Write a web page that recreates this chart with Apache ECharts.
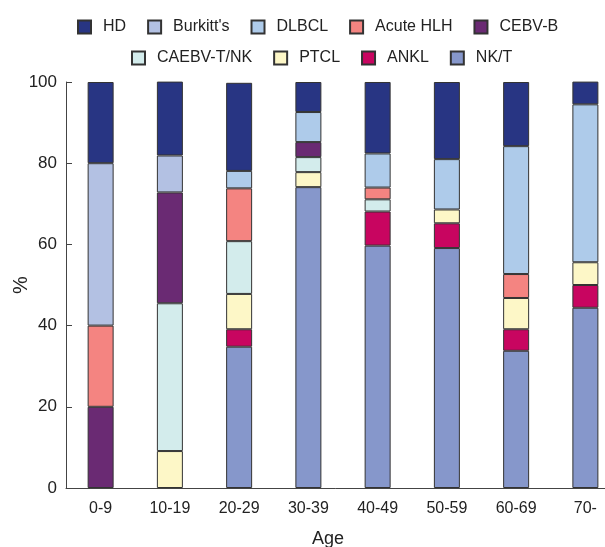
<!DOCTYPE html>
<html>
<head>
<meta charset="utf-8">
<script src="https://cdn.jsdelivr.net/npm/echarts@6/dist/echarts.min.js"></script>
<style>html,body{margin:0;padding:0;background:#fff;}#c{width:605px;height:547px;}</style>
</head>
<body>
<div id="c"></div>
<script>
var categories = ['0-9', '10-19', '20-29', '30-39', '40-49', '50-59', '60-69', '70-'];
var yTicks = [0, 20, 40, 60, 80, 100];

// stacked bottom to top
var nkt     = [0, 0, 34.8, 74.1, 59.7, 59.1, 33.8, 44.4];
var ankl    = [0, 0, 4.3, 0, 8.4, 6.1, 5.3, 5.6];
var ptcl    = [0, 9.1, 8.7, 3.7, 0, 3.4, 7.7, 5.6];
var caebv   = [0, 36.4, 13.0, 3.7, 3.0, 0, 0, 0];
var cebvb   = [20, 27.3, 0, 3.7, 0, 0, 0, 0];
var acuteHlh= [20, 0, 13.0, 0, 2.9, 0, 5.9, 0];
var dlbcl   = [0, 0, 4.3, 7.4, 8.4, 12.4, 31.5, 38.9];
var burkitt = [40, 9.1, 0, 0, 0, 0, 0, 0];
var hd      = [20, 18.2, 21.7, 7.4, 17.6, 19.0, 15.8, 5.6];

var seriesDefs = [
  {name: 'NK/T', data: nkt, color: '#8697cb'},
  {name: 'ANKL', data: ankl, color: '#c80560'},
  {name: 'PTCL', data: ptcl, color: '#fdf7c7'},
  {name: 'CAEBV-T/NK', data: caebv, color: '#d3ecec'},
  {name: 'CEBV-B', data: cebvb, color: '#6a2a73'},
  {name: 'Acute HLH', data: acuteHlh, color: '#f48481'},
  {name: 'DLBCL', data: dlbcl, color: '#aecbea'},
  {name: "Burkitt's", data: burkitt, color: '#b3c1e3'},
  {name: 'HD', data: hd, color: '#283583'}
];

var font = 'Liberation Sans, Arial, Helvetica, sans-serif';
var legendCommon = {
  icon: 'rect', itemWidth: 13, itemHeight: 13, itemGap: 21, orient: 'horizontal',
  textStyle: {fontSize: 16, color: '#222', fontFamily: font, padding: [0, 0, 0, 7]}
};

var chart = echarts.init(document.getElementById('c'), null, {renderer: 'canvas'});
chart.setOption({
  backgroundColor: '#fff',
  animation: false,
  textStyle: {fontFamily: font},
  legend: [
    Object.assign({left: 72, top: 14, data: ['HD', "Burkitt's", 'DLBCL', 'Acute HLH', 'CEBV-B']}, legendCommon),
    Object.assign({left: 126, top: 45, data: ['CAEBV-T/NK', 'PTCL', 'ANKL', 'NK/T']}, legendCommon)
  ],
  grid: {left: 66, right: -15, top: 82, bottom: 59, containLabel: false, outerBoundsMode: 'none'},
  xAxis: {
    type: 'category',
    data: categories,
    name: 'Age',
    nameLocation: 'middle',
    nameGap: 42,
    nameMoveOverlap: false,
    nameTextStyle: {fontSize: 18, color: '#222', fontFamily: font, padding: [0, 30, 0, 0]},
    axisLine: {lineStyle: {color: '#444', width: 1}},
    axisTick: {show: false},
    axisLabel: {fontSize: 16, color: '#222', margin: 13, fontFamily: font}
  },
  yAxis: {
    type: 'value',
    min: yTicks[0], max: yTicks[yTicks.length - 1], interval: 20,
    name: '%',
    nameLocation: 'middle',
    nameGap: 35,
    nameMoveOverlap: false,
    nameTextStyle: {fontSize: 20, color: '#222', fontFamily: font},
    axisLine: {show: true, lineStyle: {color: '#444', width: 1}},
    axisTick: {show: true, inside: true, length: 6, lineStyle: {color: '#444'}},
    splitLine: {show: false},
    axisLabel: {fontSize: 17, color: '#222', margin: 9, fontFamily: font}
  },
  series: seriesDefs.map(function (s) {
    return {
      name: s.name,
      type: 'bar',
      stack: 'total',
      barWidth: 26,
      data: s.data.map(function (v) { return v === 0 ? '-' : v; }),
      itemStyle: {color: s.color, borderColor: '#333', borderWidth: 1}
    };
  })
});
</script>
</body>
</html>
